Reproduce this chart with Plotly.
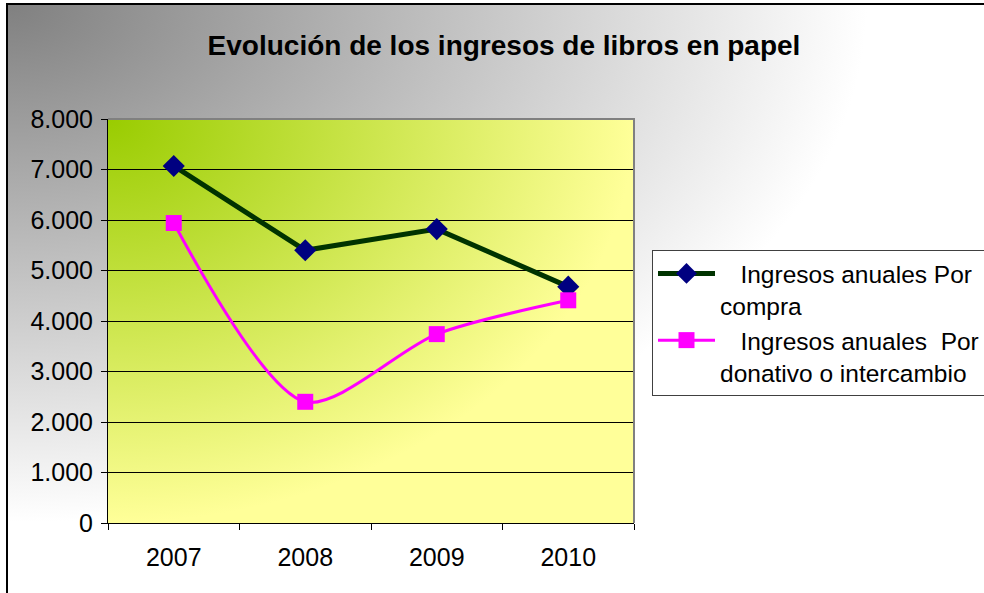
import base64
import plotly.graph_objects as go

# ---- data ----
years = ["2007", "2008", "2009", "2010"]
compra = [7070, 5400, 5820, 4680]
donativo = [5940, 2400, 3740, 4410]
name_compra = "\u00a0\u00a0\u00a0Ingresos anuales Por<br>compra"
name_donativo = "\u00a0\u00a0\u00a0Ingresos anuales \u00a0Por<br>donativo o intercambio"
title_text = "Evolución de los ingresos de libros en papel"

W, H = 984, 593
L, R, T, B = 108, 350, 119, 70
pw, ph = W - L - R, H - T - B

FONT = "Arial, Liberation Sans, sans-serif"


def svg_uri(svg):
    return "data:image/svg+xml;base64," + base64.b64encode(svg.encode()).decode()


paper_svg = f"""<svg xmlns='http://www.w3.org/2000/svg' width='{W}' height='{H}' viewBox='0 0 {W} {H}' preserveAspectRatio='none'>
<defs><radialGradient id='g' cx='0' cy='0' r='1' fx='0' fy='0'>
<stop offset='0' stop-color='#808080'/><stop offset='0.88' stop-color='#ffffff'/><stop offset='1' stop-color='#ffffff'/>
</radialGradient></defs>
<rect x='0' y='0' width='{W}' height='{H}' fill='#ffffff'/>
<rect x='8' y='4' width='{W-8}' height='{H-4}' fill='url(#g)'/>
<rect x='6' y='3' width='2' height='{H-3}' fill='#000'/>
<rect x='6' y='3' width='{W-6}' height='2' fill='#000'/>
</svg>"""

plot_svg = """<svg xmlns='http://www.w3.org/2000/svg' width='100' height='100' viewBox='0 0 100 100' preserveAspectRatio='none'>
<defs><radialGradient id='p' cx='0' cy='0' r='1' fx='0' fy='0'>
<stop offset='0' stop-color='#99cc00'/><stop offset='1' stop-color='#ffff99'/>
</radialGradient></defs>
<rect x='0' y='0' width='100' height='100' fill='url(#p)'/>
</svg>"""

fig = go.Figure()
fig.add_trace(go.Scatter(
    x=years, y=compra, name=name_compra, mode="lines+markers",
    line=dict(color="#003300", width=5),
    marker=dict(symbol="diamond", size=17, color="#000080"),
))
fig.add_trace(go.Scatter(
    x=years, y=donativo, name=name_donativo, mode="lines+markers",
    line=dict(color="#ff00ff", width=3, shape="spline", smoothing=0.8),
    marker=dict(symbol="square", size=16, color="#ff00ff"),
))

fig.update_layout(
    width=W, height=H,
    margin=dict(l=L, r=R, t=T, b=B, autoexpand=False),
    paper_bgcolor="#ffffff",
    plot_bgcolor="rgba(0,0,0,0)",
    separators=",.",
    font=dict(family=FONT, color="#000000", size=24),
    title=dict(text=f"<b>{title_text}</b>", x=504 / W, xref="container", xanchor="center",
               y=1 - 45 / H, yref="container", yanchor="middle",
               font=dict(family=FONT, size=28, color="#000000")),
    xaxis=dict(type="category", range=[-0.5, len(years) - 0.5], tickson="boundaries",
               ticks="outside", ticklen=6,
               tickcolor="#000", showline=True, linecolor="#000", linewidth=1,
               showgrid=False, zeroline=False, tickfont=dict(size=25),
               ticklabelstandoff=12, fixedrange=True),
    yaxis=dict(range=[0, 8000], dtick=1000, tickformat=",d", ticks="outside", ticklen=6,
               tickcolor="#000", showline=True, linecolor="#000", linewidth=1,
               showgrid=True, gridcolor="#000", gridwidth=1, zeroline=False,
               tickfont=dict(size=25), ticklabelstandoff=3, fixedrange=True),
    legend=dict(x=(652 - L) / pw, y=(H - B - 250) / ph, xanchor="left", yanchor="top",
                bgcolor="#ffffff", bordercolor="#404040", borderwidth=1,
                font=dict(family=FONT, size=24.5, color="#000"), valign="top",
                itemwidth=57, tracegroupgap=1),
    images=[
        dict(source=svg_uri(paper_svg), xref="paper", yref="paper",
             x=-L / pw, y=1 + T / ph, sizex=W / pw, sizey=H / ph,
             xanchor="left", yanchor="top", sizing="stretch", layer="below"),
        dict(source=svg_uri(plot_svg), xref="paper", yref="paper",
             x=0, y=1, sizex=1, sizey=1,
             xanchor="left", yanchor="top", sizing="stretch", layer="below"),
    ],
    shapes=[dict(type="path", xref="paper", yref="paper", path="M 0 1 L 1 1 L 1 0",
                 line=dict(color="#808080", width=2), layer="above")],
    showlegend=True,
)

fig.write_html(
    "out.html",
    config={"displayModeBar": False, "staticPlot": True},
    post_script="document.body.style.margin='0';document.body.style.overflow='hidden';",
)
